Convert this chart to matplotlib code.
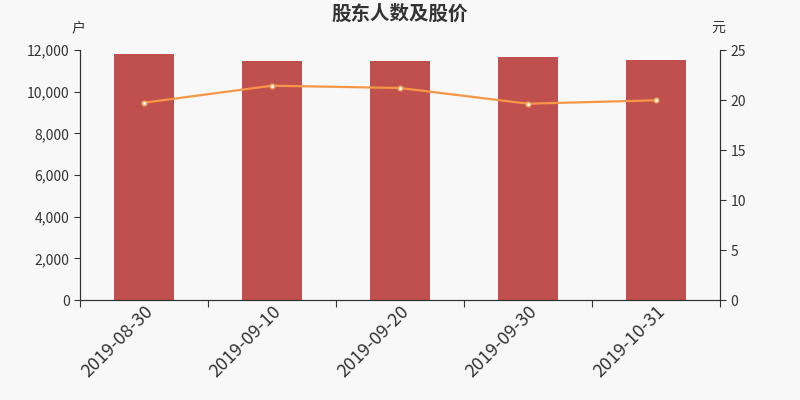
import matplotlib
matplotlib.use("Agg")
import matplotlib.pyplot as plt
from matplotlib.ticker import FuncFormatter, FixedLocator
import numpy as np

plt.rcParams['font.family'] = ['Noto Sans CJK SC', 'DejaVu Sans']

datas = ["2019-08-30", "2019-09-10", "2019-09-20", "2019-09-30", "2019-10-31"]
acionistas = [11800, 11470, 11460, 11660, 11500]
precos = [19.73, 21.43, 21.2, 19.63, 19.97]

cor_fundo = "#f8f8f8"
cor_texto = "#333333"

fig = plt.figure(figsize=(8, 4), dpi=100, facecolor=cor_fundo)
ax = fig.add_axes([0.1, 0.25, 0.8, 0.625], facecolor=cor_fundo)
ax2 = ax.twinx()

x = np.arange(len(datas))
ax.bar(x, acionistas, width=0.47, color="#c0504d", zorder=2)
ax2.plot(x, precos, color="#f79646", linewidth=1.6, marker="o", markersize=3.5,
         markerfacecolor="white", markeredgecolor="#f79646", markeredgewidth=1, zorder=3)

ax.set_xlim(-0.5, len(datas) - 0.5)
ax.set_ylim(0, 12000)
ax2.set_ylim(0, 25)
ax.set_yticks(np.arange(0, 12001, 2000))
ax2.set_yticks(np.arange(0, 26, 5))
ax.yaxis.set_major_formatter(FuncFormatter(lambda v, p: f"{int(v):,}"))

# ticks nas fronteiras, rótulos no centro
ax.xaxis.set_major_locator(FixedLocator(np.arange(-0.5, len(datas), 1)))
ax.xaxis.set_minor_locator(FixedLocator(x))
ax.set_xticklabels([], minor=False)
ax.set_xticklabels(datas, minor=True, rotation=45, ha="right", rotation_mode="anchor",
                   fontsize=13, color=cor_texto)
ax.tick_params(axis="x", which="major", length=5, color=cor_texto)
ax.tick_params(axis="x", which="minor", length=0, pad=2)

for a in (ax, ax2):
    a.tick_params(axis="y", labelsize=10, colors=cor_texto, length=4)
    a.spines["top"].set_visible(False)
    for s in ("left", "right", "bottom"):
        a.spines[s].set_color(cor_texto)

fig.text(0.5, 0.965, "股东人数及股价", ha="center", va="center", fontsize=14,
         fontweight="bold", color=cor_texto)
fig.text(0.098, 0.93, "户", ha="center", va="center", fontsize=10, color=cor_texto)
fig.text(0.898, 0.93, "元", ha="center", va="center", fontsize=10, color=cor_texto)

plt.savefig("out.png", dpi=100, facecolor=cor_fundo)
